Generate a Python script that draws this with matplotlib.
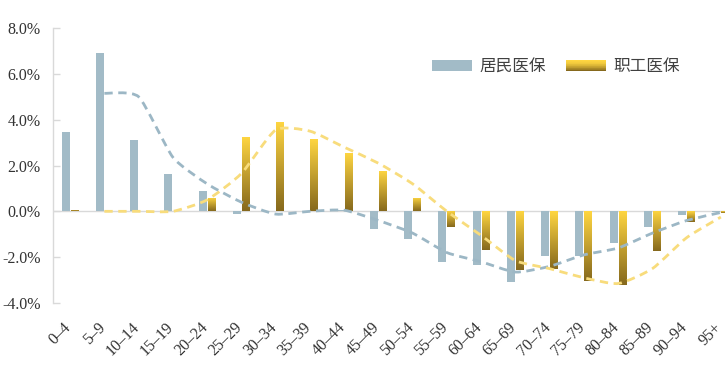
import matplotlib
matplotlib.use('Agg')
import matplotlib.pyplot as plt
import numpy as np
from matplotlib.legend_handler import HandlerBase
from matplotlib.patches import Rectangle, PathPatch
from matplotlib.path import Path
from matplotlib.colors import LinearSegmentedColormap, to_rgb
from matplotlib.transforms import ScaledTranslation

# ---------------- data ----------------
categories = ['0–4', '5–9', '10–14', '15–19', '20–24', '25–29', '30–34', '35–39',
              '40–44', '45–49', '50–54', '55–59', '60–64', '65–69', '70–74', '75–79',
              '80–84', '85–89', '90–94', '95+']
resident = [3.45, 6.9, 3.1, 1.62, 0.87, -0.1, 0.0, 0.03, 0.05, -0.75, -1.22, -2.23,
            -2.36, -3.1, -1.97, -1.97, -1.4, -0.7, -0.17, -0.03]
employee = [0.08, 0.02, 0.02, 0.02, 0.6, 3.25, 3.9, 3.15, 2.55, 1.75, 0.6, -0.7,
            -1.7, -2.58, -2.5, -3.05, -3.23, -1.75, -0.48, -0.08]
resident_trend = [np.nan, 5.15, 5.0, 2.36, 1.2, 0.4, -0.12, 0.0, 0.05, -0.4, -0.95,
                  -1.8, -2.2, -2.65, -2.4, -1.9, -1.6, -0.95, -0.4, -0.05]
employee_trend = [np.nan, 0.0, 0.0, 0.0, 0.5, 1.65, 3.55, 3.5, 2.8, 2.1, 1.2, 0.0,
                  -1.05, -2.15, -2.5, -2.9, -3.15, -2.5, -1.15, -0.25]
series_names = ['居民医保', '职工医保']
yticks = [-4, -2, 0, 2, 4, 6, 8]

# ---------------- style ----------------
blue = '#A2BBC7'
blue_line = '#9CB7C5'
gold_top = '#FFD641'
gold_bot = '#86691D'
gold_line = '#F8DC7C'
grey = '#D9D9D9'
text_c = '#333333'
serif = ['Liberation Serif', 'DejaVu Serif']
cjk = ['Noto Sans CJK SC', 'DejaVu Sans']

fig = plt.figure(figsize=(7.25, 3.75), dpi=100)
ax = fig.add_axes([53 / 725, 72 / 375, 685 / 725, 275 / 375])

x = np.arange(len(categories))
w = 0.23
off = 0.13

ax.axhline(0, color=grey, lw=1, zorder=2)

ax.bar(x - off, resident, width=w, color=blue, zorder=3, label=series_names[0])
ybars = ax.bar(x + off, employee, width=w, color='none', edgecolor='none', zorder=3,
               label=series_names[1])

cmap = LinearSegmentedColormap.from_list('gold', [gold_bot, gold_top])
grad = np.linspace(1, 0, 64).reshape(-1, 1)
for b in ybars:
    x0 = b.get_x()
    x1 = x0 + b.get_width()
    y0 = min(b.get_y(), b.get_y() + b.get_height())
    y1 = max(b.get_y(), b.get_y() + b.get_height())
    im = ax.imshow(grad, extent=[x0, x1, y0, y1], aspect='auto', cmap=cmap,
                   origin='upper', zorder=3, interpolation='bilinear')
    im.set_clip_path(b)


def smooth_path(xs, ys, k=0.1):
    """Cubic Bezier path through the data points (mild smoothing)."""
    xs = np.asarray(xs, float)
    ys = np.asarray(ys, float)
    m = ~np.isnan(ys)
    P = np.column_stack([xs[m], ys[m]])
    n = len(P)
    verts = [P[0]]
    codes = [Path.MOVETO]
    for i in range(n - 1):
        p_prev = P[i - 1] if i > 0 else P[i]
        p_next2 = P[i + 2] if i + 2 < n else P[i + 1]
        c1 = P[i] + (P[i + 1] - p_prev) * k
        c2 = P[i + 1] - (p_next2 - P[i]) * k
        verts += [c1, c2, P[i + 1]]
        codes += [Path.CURVE4] * 3
    return Path(verts, codes)


for ys, col in [(resident_trend, blue_line), (employee_trend, gold_line)]:
    pp = PathPatch(smooth_path(x, ys), facecolor='none', edgecolor=col, lw=2,
                   linestyle=(0, (3, 2)), zorder=4)
    ax.add_patch(pp)

ax.set_xlim(-0.5, len(categories) - 0.5)
ax.set_ylim(-4, 8)
ax.set_yticks(yticks)
ax.set_yticklabels([f'{v:.1f}%' for v in yticks], fontfamily=serif, fontsize=11.5,
                   color=text_c)
ax.tick_params(axis='y', direction='in', length=5, color=grey, width=1, pad=9)
ax.set_xticks(x)
ax.set_xticklabels(categories, rotation=45, ha='right', va='top',
                   rotation_mode='anchor', fontfamily=serif, fontsize=11.5, color=text_c)
ax.tick_params(axis='x', length=0, pad=12)
shift = ScaledTranslation(-7 / 100, 0, fig.dpi_scale_trans)
for lab in ax.get_xticklabels():
    lab.set_transform(lab.get_transform() + shift)

for s in ['top', 'right', 'bottom']:
    ax.spines[s].set_visible(False)
ax.spines['left'].set_color(grey)
ax.spines['left'].set_linewidth(1)


class GradientHandler(HandlerBase):
    def __init__(self, c_top, c_bot, n=16):
        super().__init__()
        self.c_top = np.array(to_rgb(c_top))
        self.c_bot = np.array(to_rgb(c_bot))
        self.n = n

    def create_artists(self, legend, orig_handle, xdescent, ydescent, width, height,
                       fontsize, trans):
        arts = []
        for i in range(self.n):
            t = i / (self.n - 1)
            col = self.c_top + (self.c_bot - self.c_top) * (t ** 1.6)
            r = Rectangle((-xdescent, -ydescent + height * (1 - (i + 1) / self.n)),
                          width, height / self.n + 0.01, facecolor=col,
                          edgecolor='none', transform=trans)
            arts.append(r)
        return arts


handles, labels = ax.get_legend_handles_labels()
leg = fig.legend(handles, labels, loc='center left',
                 bbox_to_anchor=(432 / 725, 1 - 67 / 375), ncol=2, frameon=False,
                 borderpad=0, borderaxespad=0, handlelength=2.4, handleheight=0.65,
                 handletextpad=0.45, columnspacing=1.2,
                 prop={'family': cjk, 'size': 12},
                 handler_map={ybars: GradientHandler(gold_top, gold_bot)})
for t in leg.get_texts():
    t.set_color('#404040')

fig.savefig('out.png', dpi=100)
